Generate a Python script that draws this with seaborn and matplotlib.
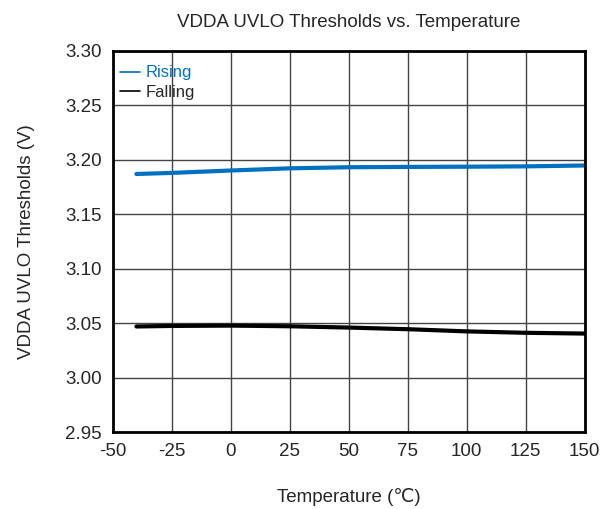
import numpy as np
import pandas as pd
import matplotlib
matplotlib.use('Agg')
import matplotlib.pyplot as plt
import seaborn as sns

# Values
temps = [-40, -25, 0, 25, 50, 75, 100, 125, 150]
rising = [3.1870, 3.1880, 3.1902, 3.1922, 3.1932, 3.1935, 3.1937, 3.1940, 3.1948]
falling = [3.0470, 3.0475, 3.0478, 3.0472, 3.0460, 3.0445, 3.0425, 3.0412, 3.0405]

df = pd.DataFrame({'Temperature': temps * 2,
                   'Threshold': rising + falling,
                   'Series': ['Rising'] * len(temps) + ['Falling'] * len(temps)})

sns.set_style('white')
plt.rcParams['font.family'] = ['Liberation Sans', 'DejaVu Sans']
plt.rcParams['axes.unicode_minus'] = False

fig = plt.figure(figsize=(6.13, 5.09), dpi=100)
ax = fig.add_axes([0.184, 0.151, 0.770, 0.749])

sns.lineplot(data=df, x='Temperature', y='Threshold', hue='Series',
             palette={'Rising': '#0070C0', 'Falling': '#000000'},
             linewidth=3, ax=ax, legend=False)

ax.set_xlim(-50, 150)
ax.set_ylim(2.95, 3.30)
ax.set_xticks(np.arange(-50, 151, 25))
ax.set_yticks(np.arange(2.95, 3.301, 0.05))
ax.set_yticklabels(['%.2f' % v for v in np.arange(2.95, 3.301, 0.05)])
ax.grid(True, color='#444444', linewidth=1)
ax.tick_params(labelsize=13.5, length=0, pad=8)
for s in ax.spines.values():
    s.set_visible(True)
    s.set_color('black')
    s.set_linewidth(2)

ax.set_xlabel('Temperature (℃)', fontsize=13.5, labelpad=20)
ax.set_ylabel('VDDA UVLO Thresholds (V)', fontsize=13.5, labelpad=22)
ax.set_title('VDDA UVLO Thresholds vs. Temperature', fontsize=13.5, pad=17)

# legend
h1, = ax.plot([], [], color='#0070C0', linewidth=1.2)
h2, = ax.plot([], [], color='black', linewidth=1.2)
leg = ax.legend([h1, h2], ['Rising', 'Falling'], loc='upper left',
                frameon=False, fontsize=12, handlelength=1.2,
                handletextpad=0.3, labelspacing=0.28,
                borderaxespad=0.2, bbox_to_anchor=(-0.005, 0.988))
leg.get_texts()[0].set_color('#0070C0')

fig.savefig('out.png', dpi=100)
